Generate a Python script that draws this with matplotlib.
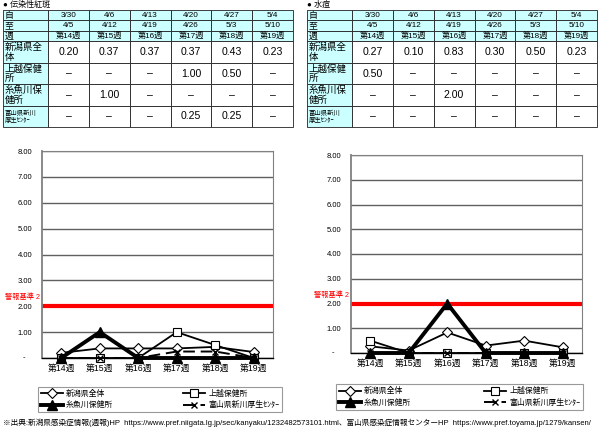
import numpy as np
import matplotlib
matplotlib.use('Agg')
import matplotlib.pyplot as plt

plt.rcParams['font.family'] = ['Liberation Sans', 'Noto Sans CJK JP']

W, H = 600, 429
CYAN = '#CCFFFF'

from_dates = ['3/30', '4/6', '4/13', '4/20', '4/27', '5/4']
to_dates = ['4/5', '4/12', '4/19', '4/26', '5/3', '5/10']
weeks = ['第14週', '第15週', '第16週', '第17週', '第18週', '第19週']
row_labels = ['新潟県全\n体', '上越保健\n所', '糸魚川保\n健所', '富山県新川\n厚生ｾﾝﾀｰ']
legend_labels = ['新潟県全体', '上越保健所', '糸魚川保健所', '富山県新川厚生ｾﾝﾀｰ']

nan = np.nan
# 伝染性紅斑 (nan = "－")
ery_niigata = [0.20, 0.37, 0.37, 0.37, 0.43, 0.23]
ery_joetsu = [nan, nan, nan, 1.00, 0.50, nan]
ery_itoigawa = [nan, 1.00, nan, nan, nan, nan]
ery_toyama = [nan, nan, nan, 0.25, 0.25, nan]
# 水痘
var_niigata = [0.27, 0.10, 0.83, 0.30, 0.50, 0.23]
var_joetsu = [0.50, nan, nan, nan, nan, nan]
var_itoigawa = [nan, nan, 2.00, nan, nan, nan]
var_toyama = [nan, nan, nan, nan, nan, nan]

alert_level = 2.0
alert_label = '警報基準 2'
y_ticks = [0, 1, 2, 3, 4, 5, 6, 7, 8]

footer = ('※出典:新潟県感染症情報(週報)HP  https://www.pref.niigata.lg.jp/sec/kanyaku/1232482573101.html、'
          '富山県感染症情報センターHP  https://www.pref.toyama.jp/1279/kansen/')

styles = [
    dict(color='black', lw=1.3, marker='D', ms=5, mfc='white', mec='black', mew=0.8),
    dict(color='black', lw=1.3, marker='s', ms=5.5, mfc='white', mec='black', mew=0.8),
    dict(color='black', lw=2.8, marker='^', ms=7, mfc='black', mec='black'),
    dict(color='black', lw=1.4, ls=(0, (6, 3)), marker='x', ms=5, mew=1.0),
]


def px_axes(fig, x0, y0, x1, y1):
    return fig.add_axes([x0 / W, 1 - y1 / H, (x1 - x0) / W, (y1 - y0) / H])


def draw_table(fig, box, title, series):
    ax = px_axes(fig, *box)
    ax.axis('off')
    fig.text(box[0] / W, 1 - 5 / H, '● ' + title, fontsize=5.8, va='center', ha='left')
    text = [['自'] + from_dates, ['至'] + to_dates, ['週'] + weeks]
    for label, vals in zip(row_labels, series):
        text.append([label] + ['–' if np.isnan(v) else f'{v:.2f}' for v in vals])
    colours = [[CYAN] * 7] * 3 + [[CYAN] + ['white'] * 6] * 4
    tbl = ax.table(cellText=text, cellColours=colours, cellLoc='center', bbox=[0, 0, 1, 1])
    tbl.auto_set_font_size(False)
    col_w = [45] + [40.8] * 6
    row_h = [10.5] * 3 + [21.4] * 4
    for (r, c), cell in tbl.get_celld().items():
        cell.set_width(col_w[c])
        cell.set_height(row_h[r])
        cell.set_edgecolor('#202020')
        cell.set_linewidth(0.6)
        t = cell.get_text()
        t.set_linespacing(1.05)
        if c == 0:
            cell._loc = 'left'
            cell.PAD = 0.03
            t.set_ha('left')
            t.set_fontsize(6.4 if r < 3 else 6.8)
        elif r < 3:
            t.set_fontsize(5.9)
        else:
            t.set_fontsize(7.6)
    tbl[6, 0].get_text().set_fontsize(4.6)


def draw_chart(fig, box, series, legend_box):
    ax = px_axes(fig, *box)
    x = np.arange(len(weeks))
    xlim = (-0.5, len(weeks) - 0.5)
    ax.set_xlim(*xlim)
    ax.set_ylim(0, 8)
    ax.set_yticks(y_ticks)
    ax.grid(True, axis='y', color='#606060', linewidth=1.0, zorder=1.5)
    ax.axhline(alert_level, color='#FF0000', lw=3, zorder=2)
    lines = []
    for vals, st in zip(series, styles):
        ln, = ax.plot(x, np.nan_to_num(vals), clip_on=False, zorder=3, **st)
        lines.append(ln)
    ax.set_xticks(x)
    ax.set_xticklabels(weeks, fontsize=6.3)
    ax.set_yticklabels([''] + [f'{v:.2f}' for v in y_ticks[1:]], fontsize=5.5)
    ax.annotate('-', xy=(0, 0), xycoords=('axes fraction', 'data'), xytext=(-14, 0),
                textcoords='offset points', ha='left', va='center', fontsize=5.5)
    ax.tick_params(axis='both', length=0)
    ax.tick_params(axis='y', pad=7)
    ax.tick_params(axis='x', pad=4)
    for side in ['top', 'right']:
        ax.spines[side].set_color('#808080')
        ax.spines[side].set_linewidth(0.8)
    ax.spines['left'].set_color('#808080')
    ax.spines['left'].set_linewidth(1.3)
    ax.spines['bottom'].set_color('black')
    ax.spines['bottom'].set_linewidth(1.0)
    ax.text(-0.01, 2.35, alert_label, transform=ax.get_yaxis_transform(), color='#FF0000',
            ha='right', va='center', fontsize=5.2)

    order = [0, 2, 1, 3]
    x0, y0, x1, y1 = legend_box
    leg = fig.legend([lines[i] for i in order], [legend_labels[i] for i in order], ncol=2,
                     loc='center', mode='expand',
                     bbox_to_anchor=(x0 / W, 1 - y1 / H, (x1 - x0) / W, (y1 - y0) / H),
                     fancybox=False, edgecolor='#808080', fontsize=5.7, handlelength=2.8,
                     borderaxespad=0, borderpad=0.35, labelspacing=0.45, handletextpad=0.4)
    leg.get_frame().set_linewidth(0.8)
    return ax


fig = plt.figure(figsize=(W / 100, H / 100), dpi=100)

draw_table(fig, (3, 10, 293, 127), '伝染性紅斑', [ery_niigata, ery_joetsu, ery_itoigawa, ery_toyama])
draw_table(fig, (307, 10, 597, 127), '水痘', [var_niigata, var_joetsu, var_itoigawa, var_toyama])

draw_chart(fig, (42, 151, 273, 358), [ery_niigata, ery_joetsu, ery_itoigawa, ery_toyama],
           (38, 386, 282, 413))
draw_chart(fig, (351, 155, 582, 353), [var_niigata, var_joetsu, var_itoigawa, var_toyama],
           (336, 384, 583, 410))

fig.text(3 / W, 1 - 423 / H, footer, fontsize=5.5, va='center', ha='left')

fig.savefig('out.png', dpi=100)
